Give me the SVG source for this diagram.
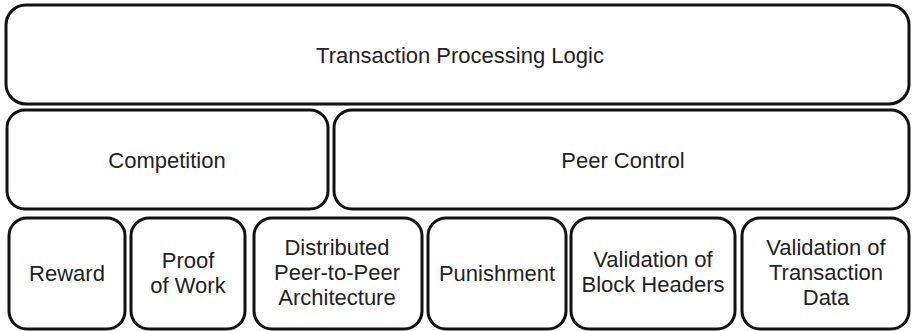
<svg xmlns="http://www.w3.org/2000/svg" width="913" height="331" viewBox="0 0 913 331">
<style>
.box{fill:#fff;stroke:#111;stroke-width:3}
.t{font-family:"Liberation Sans",Arial,sans-serif;font-size:22px;fill:#222;text-anchor:middle}
</style>
<rect width="913" height="331" fill="#fff"/>
<g id="connectors"></g>
<g id="transaction-processing-logic">
<rect class="box" x="6" y="5" width="903" height="99" rx="20"/>
<text class="t" x="460" y="63">Transaction Processing Logic</text>
</g>
<g id="competition">
<rect class="box" x="7" y="110" width="321" height="99" rx="18"/>
<text class="t" x="167" y="168">Competition</text>
</g>
<g id="peer-control">
<rect class="box" x="334" y="110" width="575" height="99" rx="18"/>
<text class="t" x="623" y="168">Peer Control</text>
</g>
<g id="reward">
<rect class="box" x="9" y="218" width="116" height="111" rx="18"/>
<text class="t" x="67" y="281">Reward</text>
</g>
<g id="proof-of-work">
<rect class="box" x="131" y="218" width="114" height="111" rx="18"/>
<text class="t" x="188" y="268">Proof</text>
<text class="t" x="188" y="293">of Work</text>
</g>
<g id="distributed-p2p">
<rect class="box" x="254" y="218" width="168" height="111" rx="18"/>
<text class="t" x="337" y="255">Distributed</text>
<text class="t" x="337" y="280">Peer-to-Peer</text>
<text class="t" x="337" y="305">Architecture</text>
</g>
<g id="punishment">
<rect class="box" x="428" y="218" width="138" height="111" rx="18"/>
<text class="t" x="497" y="281">Punishment</text>
</g>
<g id="validation-block-headers">
<rect class="box" x="571" y="218" width="164" height="111" rx="18"/>
<text class="t" x="653" y="267">Validation of</text>
<text class="t" x="653" y="292">Block Headers</text>
</g>
<g id="validation-transaction-data">
<rect class="box" x="742" y="218" width="167" height="111" rx="18"/>
<text class="t" x="826" y="255">Validation of</text>
<text class="t" x="826" y="280">Transaction</text>
<text class="t" x="826" y="305">Data</text>
</g>
</svg>
